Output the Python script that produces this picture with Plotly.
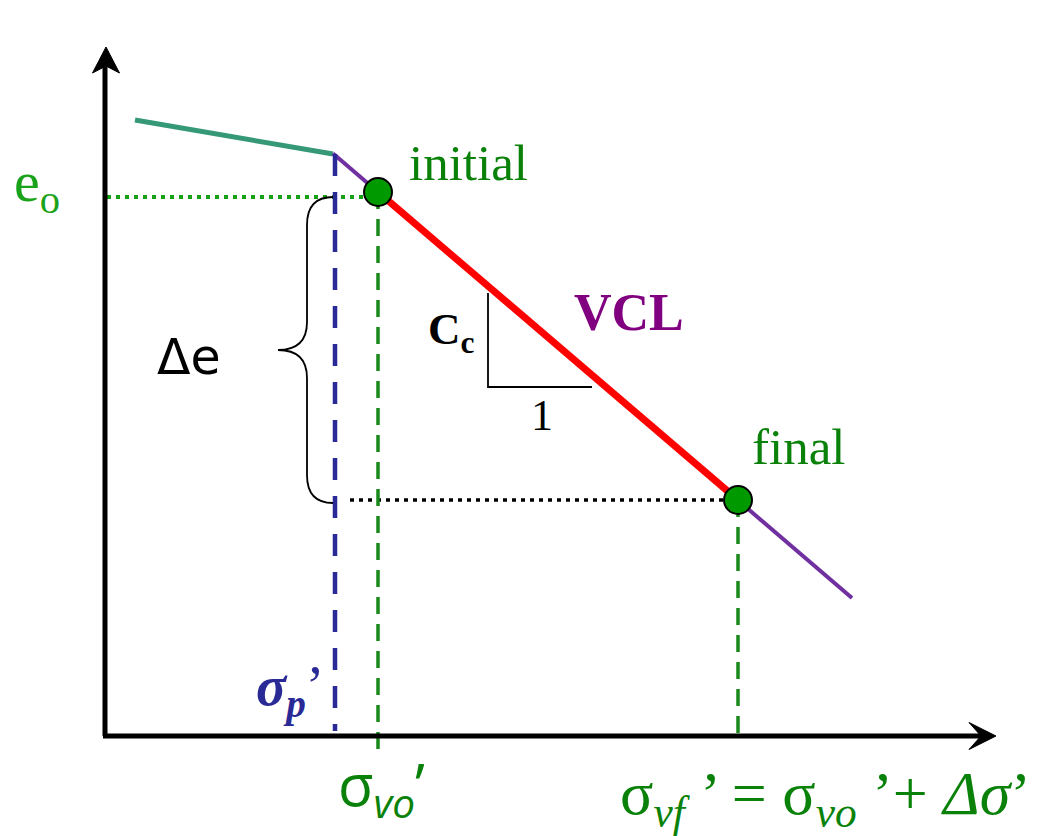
import plotly.graph_objects as go

# Schematic e - log(sigma') consolidation diagram (arbitrary units)
# x: log effective stress, y: void ratio e

# Axes (origin, ends) and arrowhead outlines
axis_x_end = 8.78
axis_y_end = 6.74
arrow_y = [(0.01, 6.90), (-0.125, 6.64), (0.01, 6.71), (0.145, 6.64)]
arrow_x = [(8.91, 0.01), (8.64, 0.145), (8.76, 0.01), (8.64, -0.125)]

# Recompression branch and virgin compression line (VCL)
recomp_x = [0.30, 2.28]
recomp_e = [6.17, 5.83]
vcl_x = [2.28, 7.47]
vcl_e = [5.835, 1.39]

# Stress states
sigma_p = 2.30
initial_x, initial_e = 2.73, 5.45
final_x, final_e = 6.33, 2.37
e0_level = 5.40

# Cc slope triangle
tri_x = [3.83, 3.83, 4.87]
tri_e = [4.44, 3.50, 3.50]

GREEN_TXT = "#0a820a"
GREEN_E0 = "#1aa31a"
GREEN_DASH = "#19891a"
BLUE = "#2a2a96"
PURPLE_LINE = "#7030a0"
SERIF = "Liberation Serif"

fig = go.Figure()

# recompression line
fig.add_trace(go.Scatter(x=recomp_x, y=recomp_e, mode="lines",
                         line=dict(color="#359877", width=5)))
# full VCL (thin purple)
fig.add_trace(go.Scatter(x=vcl_x, y=vcl_e, mode="lines",
                         line=dict(color=PURPLE_LINE, width=4)))

# e0 dotted guide
fig.add_trace(go.Scatter(x=[0.02, initial_x], y=[e0_level, e0_level], mode="lines",
                         line=dict(color="#16a016", width=4, dash="4px,5px")))
# final dotted guide
fig.add_trace(go.Scatter(x=[2.45, final_x], y=[final_e, final_e], mode="lines",
                         line=dict(color="black", width=3.5, dash="4px,5px")))

# preconsolidation stress dashed line
fig.add_trace(go.Scatter(x=[sigma_p, sigma_p], y=[5.83, 0.06], mode="lines",
                         line=dict(color=BLUE, width=4.5, dash="22px,16px")))
# initial and final stress dashed lines
fig.add_trace(go.Scatter(x=[initial_x, initial_x], y=[initial_e, -0.20], mode="lines",
                         line=dict(color=GREEN_DASH, width=3.5, dash="17px,10px")))
fig.add_trace(go.Scatter(x=[final_x, final_x], y=[final_e, 0.0], mode="lines",
                         line=dict(color=GREEN_DASH, width=3.5, dash="17px,10px")))

# loaded portion of VCL (red)
fig.add_trace(go.Scatter(x=[initial_x, final_x], y=[initial_e, final_e], mode="lines",
                         line=dict(color="#ff0000", width=7)))

# slope triangle
fig.add_trace(go.Scatter(x=tri_x, y=tri_e, mode="lines",
                         line=dict(color="black", width=1.8)))

# state points
fig.add_trace(go.Scatter(x=[initial_x, final_x], y=[initial_e, final_e], mode="markers",
                         marker=dict(size=28, color="#009a00",
                                     line=dict(color="black", width=2))))

# axes
fig.add_trace(go.Scatter(x=[0, 0], y=[0.01, axis_y_end], mode="lines",
                         line=dict(color="black", width=5)))
fig.add_trace(go.Scatter(x=[-0.02, axis_x_end], y=[0.01, 0.01], mode="lines",
                         line=dict(color="black", width=5)))


def poly_path(pts):
    return "M " + " L ".join(f"{x},{y}" for x, y in pts) + " Z"


shapes = [
    dict(type="path", path=poly_path(arrow_y), xref="x", yref="y",
         fillcolor="black", line=dict(color="black", width=1)),
    dict(type="path", path=poly_path(arrow_x), xref="x", yref="y",
         fillcolor="black", line=dict(color="black", width=1)),
    # curly brace spanning delta e
    dict(type="path", xref="x", yref="y", line=dict(color="black", width=1.8),
         path=("M 2.28,5.40 Q 2.02,5.40 2.02,5.12 L 2.02,4.15 "
               "Q 2.02,3.87 1.73,3.87 Q 2.02,3.87 2.02,3.59 "
               "L 2.02,2.62 Q 2.02,2.34 2.28,2.34")),
]

annotations = [
    dict(x=-0.93, y=5.52, text="e<sub>o</sub>", xanchor="left", yanchor="middle",
         font=dict(family=SERIF, size=58, color=GREEN_E0)),
    dict(x=3.02, y=5.74, text="initial", xanchor="left", yanchor="middle",
         font=dict(family=SERIF, size=51, color=GREEN_TXT)),
    dict(x=6.45, y=2.90, text="final", xanchor="left", yanchor="middle",
         font=dict(family=SERIF, size=51, color=GREEN_TXT)),
    dict(x=4.67, y=4.25, text="<b>VCL</b>", xanchor="left", yanchor="middle",
         font=dict(family=SERIF, size=52, color="#800080")),
    dict(x=3.21, y=4.05, text="<b>C<sub>c</sub></b>", xanchor="left", yanchor="middle",
         font=dict(family=SERIF, size=45, color="black")),
    dict(x=4.37, y=3.22, text="1", xanchor="center", yanchor="middle",
         font=dict(family=SERIF, size=44, color="black")),
    dict(x=0.50, y=3.80, text="Δe", xanchor="left", yanchor="middle",
         font=dict(family="DejaVu Sans", size=49, color="black")),
    dict(x=1.49, y=0.47, text="<b><i>σ<sub>p</sub></i></b>’", xanchor="left", yanchor="middle",
         font=dict(family=SERIF, size=56, color=BLUE)),
    dict(x=2.31, y=-0.50, text="σ<sub><i>vo</i></sub>’", xanchor="left", yanchor="middle",
         font=dict(family="Open Sans", size=58, color=GREEN_TXT)),
    dict(x=5.13, y=-0.60,
         text="σ<sub><i>vf</i></sub> ’ = σ<sub><i>vo</i></sub> ’+ <i>Δσ</i>’",
         xanchor="left", yanchor="middle",
         font=dict(family=SERIF, size=62, color=GREEN_TXT)),
]
for a in annotations:
    a.update(xref="x", yref="y", showarrow=False)

fig.update_layout(
    width=1038, height=836, autosize=False,
    margin=dict(l=0, r=0, t=0, b=0),
    paper_bgcolor="white", plot_bgcolor="white",
    showlegend=False,
    xaxis=dict(range=[-1.05, 9.33], visible=False, fixedrange=True),
    yaxis=dict(range=[-0.99, 7.37], visible=False, fixedrange=True),
    shapes=shapes, annotations=annotations,
)

fig.write_html("out.html")
